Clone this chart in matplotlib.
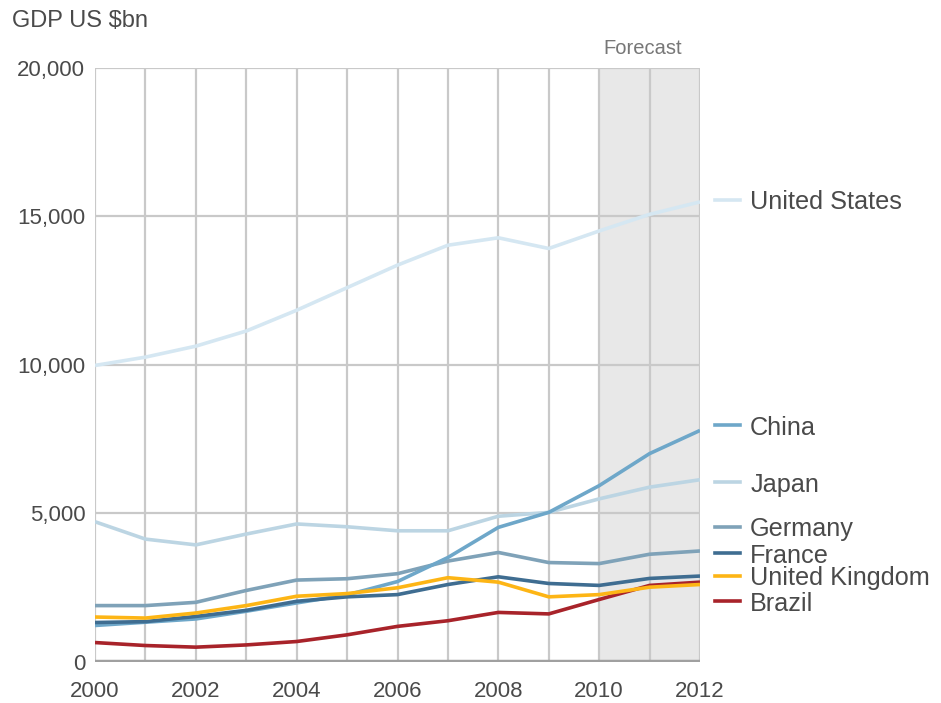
import matplotlib
matplotlib.use("Agg")
import matplotlib.pyplot as plt
import matplotlib.transforms as mtransforms

plt.rcParams['font.family'] = ['Liberation Sans', 'DejaVu Sans']

years = list(range(2000, 2013))
united_states = [9980, 10260, 10630, 11140, 11840, 12600, 13360, 14030, 14280, 13920, 14510, 15070, 15490]
china = [1220, 1330, 1440, 1700, 1980, 2250, 2700, 3510, 4525, 5030, 5930, 7010, 7790]
japan = [4715, 4130, 3935, 4300, 4640, 4545, 4410, 4410, 4900, 5030, 5485, 5880, 6130]
germany = [1890, 1890, 2000, 2400, 2750, 2795, 2965, 3390, 3680, 3340, 3305, 3620, 3730]
france = [1320, 1350, 1525, 1730, 2035, 2185, 2260, 2600, 2860, 2635, 2570, 2805, 2885]
united_kingdom = [1505, 1470, 1640, 1890, 2205, 2295, 2490, 2830, 2680, 2185, 2260, 2510, 2600]
brazil = [645, 545, 490, 565, 680, 905, 1190, 1380, 1660, 1610, 2095, 2570, 2680]

series_names = ["United States", "China", "Japan", "Germany", "France", "United Kingdom", "Brazil"]
series_values = [united_states, china, japan, germany, france, united_kingdom, brazil]
series_colors = ["#d5e7f2", "#6ea7c9", "#bcd5e3", "#7fa2b8", "#3f6d91", "#fdb515", "#a8232a"]
label_y = [15560, 7960, 6040, 4550, 3650, 2890, 2030]

forecast_start, forecast_end = 2010, 2012
y_ticks = [0, 5000, 10000, 15000, 20000]
x_ticks = [2000, 2002, 2004, 2006, 2008, 2010, 2012]

W, H = 941, 703
fig = plt.figure(figsize=(W / 100, H / 100), dpi=100)
left, right, bottom, top = 95, 700, 661.7, 68
ax = fig.add_axes([left / W, (H - bottom) / H, (right - left) / W, (bottom - top) / H])

ax.axvspan(forecast_start, forecast_end, color="#e8e8e8", zorder=0, lw=0)

grid_color = "#c9c9c9"
for yr in years:
    ax.axvline(yr, color=grid_color, lw=1.6, zorder=1)
for yv in y_ticks[1:]:
    ax.axhline(yv, color=grid_color, lw=1.6, zorder=1)

draw_order = [0, 2, 3, 1, 6, 4, 5]
for i in draw_order:
    ax.plot(years, series_values[i], color=series_colors[i], lw=2.6, zorder=3,
            solid_capstyle='butt')

ax.axhline(0, color="#a0a0a0", lw=3.2, zorder=4)

ax.set_xlim(2000, 2012)
ax.set_ylim(0, 20000)
for s in ax.spines.values():
    s.set_visible(False)
ax.set_xticks(x_ticks)
ax.set_xticklabels([str(x) for x in x_ticks])
ax.set_yticks(y_ticks)
ax.set_yticklabels([f"{v:,}" for v in y_ticks])
ax.tick_params(length=0, labelsize=16, colors="#4a4a4a")
ax.tick_params(axis='x', pad=14)
ax.tick_params(axis='y', pad=7)
ax.patch.set_alpha(0)

trans = mtransforms.blended_transform_factory(ax.transAxes, ax.transData)
for name, col, ly in zip(series_names, series_colors, label_y):
    ax.plot([1.025, 1.066], [ly, ly], color=col, lw=2.6, transform=trans, clip_on=False)
    ax.text(1.083, ly, name, transform=trans, fontsize=18.2, color="#4a4a4a",
            va='center_baseline', ha='left', clip_on=False)

fig.text(12 / W, 1 - 21 / H, "GDP US $bn", fontsize=17, color="#4a4a4a", va='center', ha='left')
ax.text(2010.87, 1.0 + 19 / (bottom - top), "Forecast",
        transform=mtransforms.blended_transform_factory(ax.transData, ax.transAxes),
        fontsize=14.5, color="#777777", ha='center', va='center')

fig.savefig("out.png", dpi=100)
